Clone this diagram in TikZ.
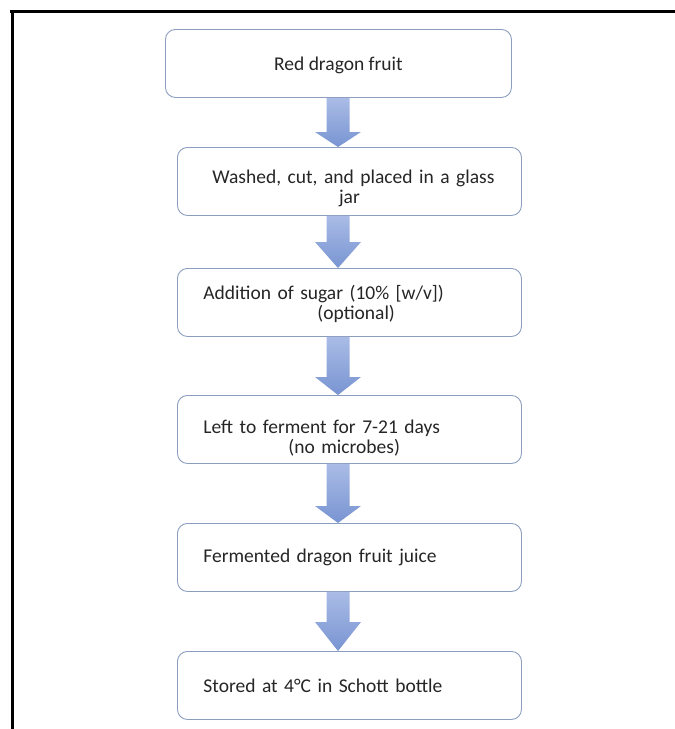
\documentclass[tikz,border=0pt]{standalone}
\usepackage{fontspec}
\setmainfont{Carlito}
\usetikzlibrary{calc}
\definecolor{boxline}{RGB}{140,158,190}
\definecolor{txt}{RGB}{38,38,38}
\definecolor{arrA}{RGB}{170,188,230}
\definecolor{arrB}{RGB}{120,148,210}
\tikzset{
  stepbox/.style={draw=boxline, line width=0.9pt, rounded corners=10pt, fill=white,
    minimum height=68pt, minimum width=344pt, anchor=north west,
    text=txt, font=\fontsize{19.5}{20}\selectfont, inner xsep=26pt, inner ysep=0pt},
  leftbox/.style={stepbox, text width=292pt, align=left},
  blkarrow/.style={top color=arrA, bottom color=arrB, draw=none}
}
\newcommand{\blockarrow}[3]{%
  \path[blkarrow] ($(ax |- #1.south)+(-11.5,0)$) -- ($(ax |- #2.north)+(-11.5,-#3)$)
    -- ($(ax |- #2.north)+(-23,-#3)$) -- (ax |- #2.north)
    -- ($(ax |- #2.north)+(23,-#3)$) -- ($(ax |- #2.north)+(11.5,-#3)$)
    -- ($(ax |- #1.south)+(11.5,0)$) -- cycle;}
\begin{document}
\begin{tikzpicture}[x=1pt,y=-1pt]
\useasboundingbox (0,0) rectangle (675,729);
\draw[line width=3pt] (10,11) -- (675,11);
\draw[line width=3pt] (12,10) -- (12,729);
\coordinate (ax) at (338,0);
\node[stepbox, minimum width=346pt, align=center] (b1) at (165,29) {\rule{0pt}{18pt}Red dragon fruit};
\node[stepbox, align=center, text width=320pt, inner xsep=12pt] (b2) at (177,147) {\rule{0pt}{28pt}\hspace*{8pt}Washed, cut, and placed in a glass\\jar};
\node[leftbox] (b3) at (177,268) {\rule{0pt}{17pt}Addition of sugar (10\% [w/v])\\\hspace*{114pt}(optional)};
\node[leftbox] (b4) at (177,395) {\rule{0pt}{30pt}Left to ferment for 7-21 days\\\hspace*{85pt}(no microbes)};
\node[leftbox] (b5) at (177,523) {Fermented dragon fruit juice};
\node[leftbox] (b6) at (177,651) {Stored at 4°C in Schott bottle};
\blockarrow{b1}{b2}{15}
\blockarrow{b2}{b3}{26}
\blockarrow{b3}{b4}{18}
\blockarrow{b4}{b5}{17}
\blockarrow{b5}{b6}{29}
\end{tikzpicture}
\end{document}
